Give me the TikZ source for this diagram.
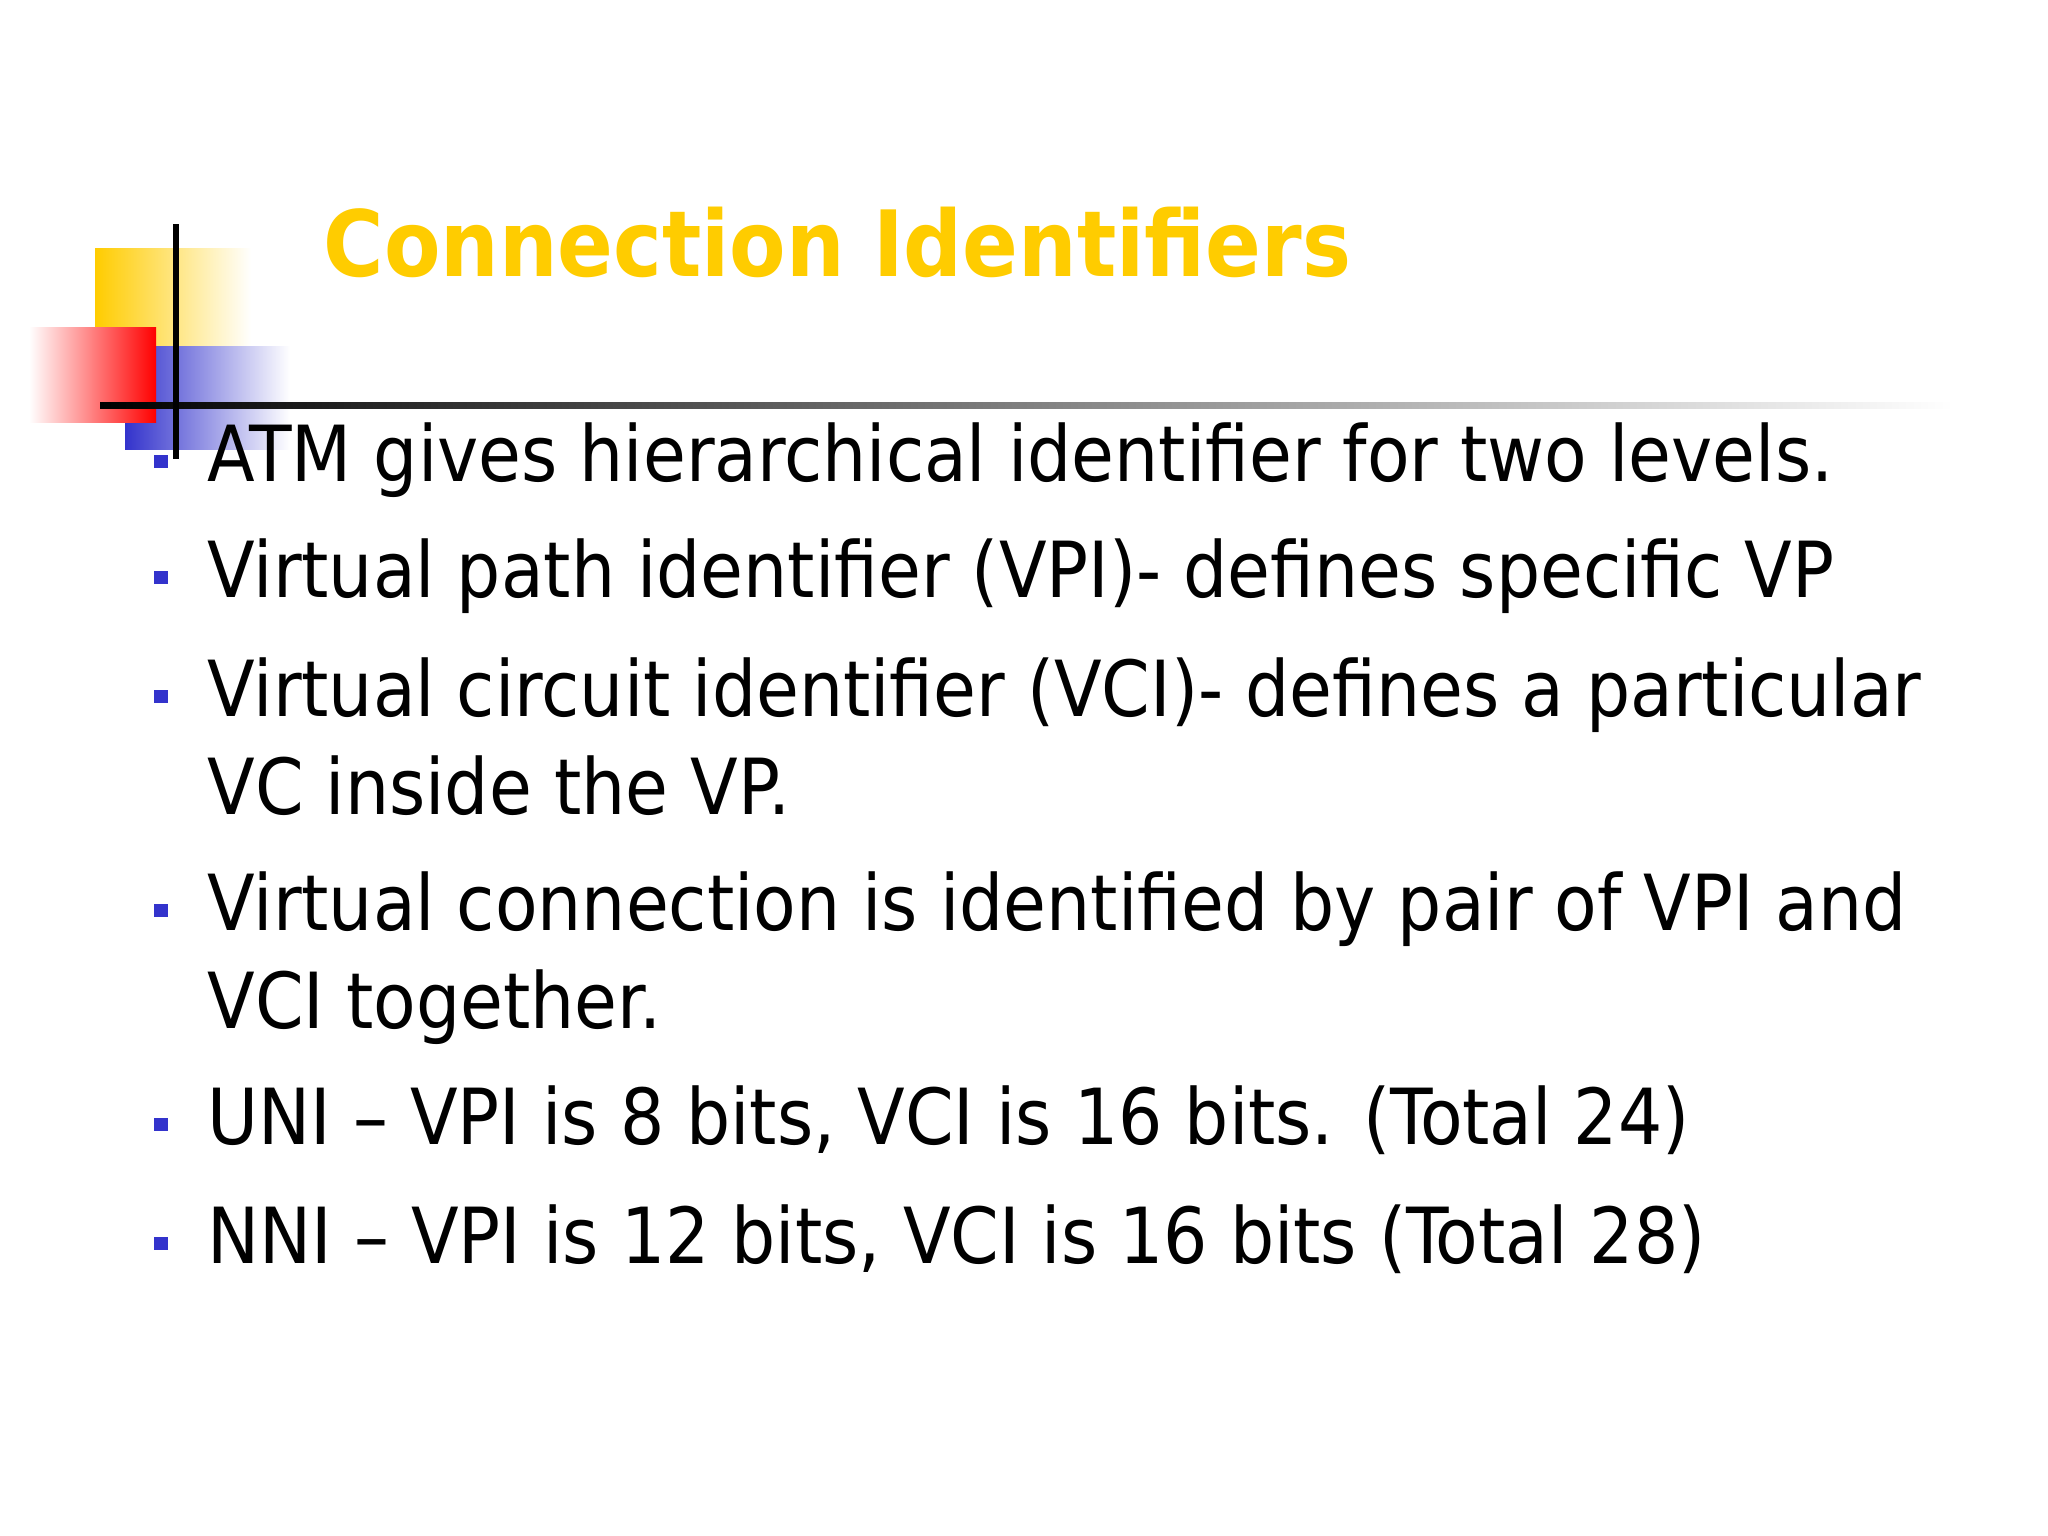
\documentclass[tikz,border=0pt]{standalone}
\usepackage{fontspec}
\setmainfont{DejaVu Sans Condensed}
\newfontfamily\titlefont{DejaVu Sans Condensed Bold}
\definecolor{ttl}{RGB}{255,204,0}
\definecolor{bul}{RGB}{51,51,204}
\definecolor{redq}{RGB}{255,0,0}
\definecolor{blueq}{RGB}{51,51,204}
\tikzset{line/.style={anchor=base west,inner sep=0pt,font=\fontsize{22pt}{26pt}\selectfont},
bulsq/.style={fill=bul,minimum size=0.13cm,inner sep=0pt}}
\begin{document}
\begin{tikzpicture}[x=0.01cm,y=-0.01cm]
\useasboundingbox (0,0) rectangle (2048,1536);
\fill[white] (0,0) rectangle (2048,1536);
% decorations
\shade[left color=ttl,right color=white] (95,248) rectangle (251,396);
\shade[left color=blueq,right color=white] (125,346) rectangle (290,449);
\shade[left color=white,right color=redq] (29,327) rectangle (156,422);
\shade[left color=black,right color=white] (100,402) rectangle (1953,408);
\fill[black] (173,224) rectangle (179,459);
\node[anchor=base west,inner sep=0pt,text=ttl,font=\titlefont\fontsize{26pt}{30pt}\selectfont] (title) at (323,276) {Connection Identifiers};
% bullets
\foreach \y [count=\i] in {481,597,716,930,1144,1263}
  \node[bulsq] (b\i) at (161,\y-20) {};
\node[line] (l1) at (207,481) {ATM gives hierarchical identifier for two levels.};
\node[line] (l2) at (207,597) {Virtual path identifier (VPI)- defines specific VP};
\node[line] (l3) at (207,716) {Virtual circuit identifier (VCI)- defines a particular};
\node[line] (l3b) at (207,814) {VC inside the VP.};
\node[line] (l4) at (207,930) {Virtual connection is identified by pair of VPI and};
\node[line] (l4b) at (207,1028) {VCI together.};
\node[line] (l5) at (207,1144) {UNI -- VPI is 8 bits, VCI is 16 bits. (Total 24)};
\node[line] (l6) at (207,1263) {NNI -- VPI is 12 bits, VCI is 16 bits (Total 28)};
\end{tikzpicture}
\end{document}
